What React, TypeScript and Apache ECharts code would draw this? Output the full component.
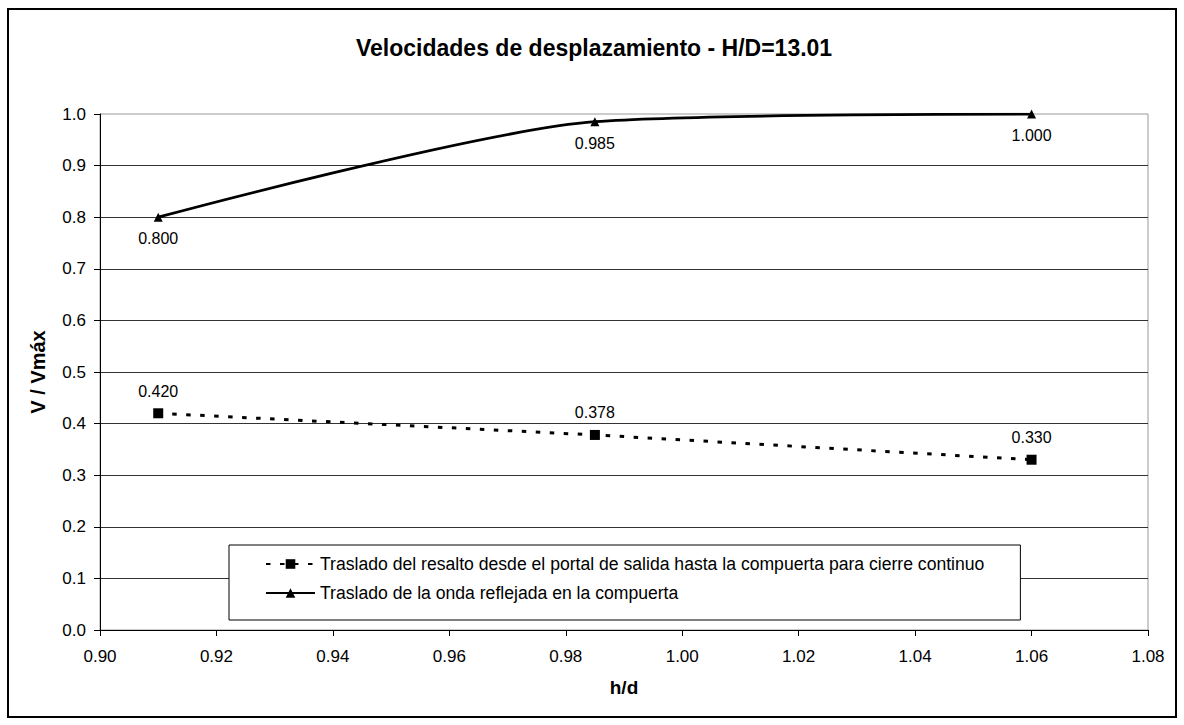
import React, { useEffect, useRef } from "react";
import * as echarts from "echarts";

const titleText = "Velocidades de desplazamiento - H/D=13.01";
const xAxisTitle = "h/d";
const yAxisTitle = "V / Vmáx";
const hdValues = [0.91, 0.985, 1.06];
const resaltoValues = [0.42, 0.378, 0.33];
const ondaValues = [0.8, 0.985, 1.0];
const seriesNames = [
  "Traslado del resalto desde el portal de salida hasta la compuerta para cierre continuo",
  "Traslado de la onda reflejada en la compuerta",
];

const FONT = "'Liberation Sans', Arial, sans-serif";

export default function App() {
  const ref = useRef<HTMLDivElement>(null);
  useEffect(() => {
    document.body.style.margin = "0";
    const chart = echarts.init(ref.current!, null, { renderer: "svg" });
    const resaltoData = hdValues.map((x, i) => [x, resaltoValues[i]]);
    const ondaData = hdValues.map((x, i) => [x, ondaValues[i]]);
    chart.setOption({
      animation: false,
      backgroundColor: "#fff",
      textStyle: { fontFamily: FONT, color: "#000" },
      title: {
        text: titleText,
        left: 356,
        top: 36,
        padding: 0,
        textStyle: { fontFamily: FONT, fontSize: 23, fontWeight: "bold", color: "#000" },
      },
      graphic: [
        {
          type: "rect",
          shape: { x: 8, y: 9, width: 1168, height: 708 },
          style: { fill: "none", stroke: "#000", lineWidth: 2 },
          silent: true,
          z: 100,
        },
      ],
      grid: {
        left: 100,
        top: 114,
        right: 36,
        bottom: 95,
        show: true,
        borderColor: "#999",
        borderWidth: 1,
        backgroundColor: "transparent",
      },
      legend: {
        orient: "vertical",
        left: 229,
        top: 545,
        padding: [10, 36, 18, 36],
        itemGap: 11,
        itemWidth: 49,
        itemHeight: 12,
        backgroundColor: "#fff",
        borderColor: "#000",
        borderWidth: 1,
        align: "left",
        textStyle: { fontFamily: FONT, fontSize: 17.6, color: "#000" },
        data: seriesNames,
      },
      xAxis: {
        type: "value",
        min: 0.9,
        max: 1.08,
        interval: 0.02,
        name: xAxisTitle,
        nameLocation: "middle",
        nameGap: 48,
        nameTextStyle: { fontFamily: FONT, fontSize: 19, fontWeight: "bold", color: "#000" },
        axisLine: { show: true, onZero: false, lineStyle: { color: "#000", width: 1 } },
        axisTick: { show: true, inside: false, length: 6, lineStyle: { color: "#000" } },
        axisLabel: {
          margin: 18,
          fontFamily: FONT,
          fontSize: 17,
          color: "#000",
          formatter: (v: number) => v.toFixed(2),
        },
        splitLine: { show: false },
      },
      yAxis: {
        type: "value",
        min: 0,
        max: 1,
        interval: 0.1,
        name: yAxisTitle,
        nameLocation: "middle",
        nameGap: 52,
        nameTextStyle: { fontFamily: FONT, fontSize: 20, fontWeight: "bold", color: "#000" },
        axisLine: { show: true, lineStyle: { color: "#000", width: 1 } },
        axisTick: { show: true, inside: false, length: 6, lineStyle: { color: "#000" } },
        axisLabel: {
          margin: 14,
          fontFamily: FONT,
          fontSize: 17,
          color: "#000",
          formatter: (v: number) => v.toFixed(1),
        },
        splitLine: { show: true, showMaxLine: false, lineStyle: { color: "#333", width: 1 } },
      },
      series: [
        {
          name: seriesNames[0],
          type: "line",
          data: resaltoData,
          symbol: "rect",
          symbolSize: 10,
          itemStyle: { color: "#000" },
          lineStyle: { color: "#000", width: 3, type: [4.5, 9.5] },
          label: {
            show: true,
            position: "top",
            distance: 9,
            fontFamily: FONT,
            fontSize: 16,
            color: "#000",
            formatter: (p: any) => p.value[1].toFixed(3),
          },
          z: 3,
        },
        {
          name: seriesNames[1],
          type: "line",
          data: ondaData,
          smooth: 0.25,
          symbol: "triangle",
          symbolSize: 9,
          itemStyle: { color: "#000" },
          lineStyle: { color: "#000", width: 2.75 },
          label: {
            show: true,
            position: "bottom",
            distance: 9,
            fontFamily: FONT,
            fontSize: 16,
            color: "#000",
            formatter: (p: any) => p.value[1].toFixed(3),
          },
          z: 3,
        },
      ],
    });
    return () => chart.dispose();
  }, []);
  return <div ref={ref} style={{ width: 1184, height: 725 }} />;
}
